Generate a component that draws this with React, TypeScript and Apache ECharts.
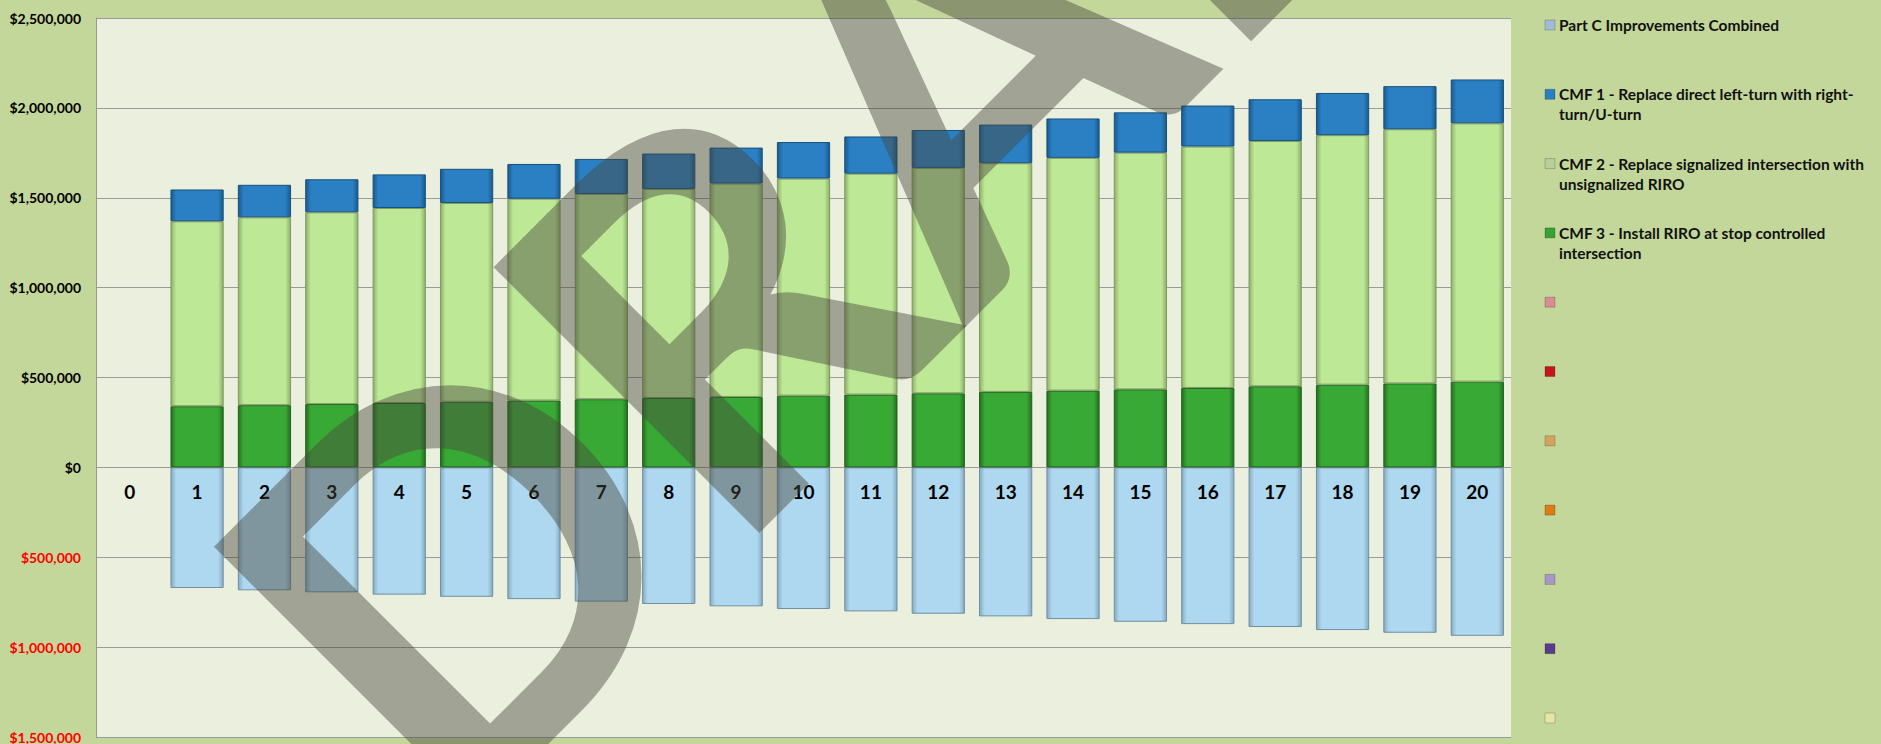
import React, { useEffect, useRef } from "react";
import * as echarts from "echarts";

const years = ["0", "1", "2", "3", "4", "5", "6", "7", "8", "9", "10", "11", "12", "13", "14", "15", "16", "17", "18", "19", "20"];

const partCValues = [null, -671000, -684000, -695000, -708000, -720000, -733000, -747000, -760000, -773000, -788000, -801000, -814000, -829000, -844000, -859000, -872000, -888000, -905000, -920000, -937000];
const cmf3Values = [null, 340000, 346000, 352000, 358000, 365000, 372000, 379000, 386000, 392000, 399000, 405000, 412000, 420000, 427000, 434000, 442000, 451000, 460000, 467000, 477000];
const cmf2Values = [null, 1029000, 1045000, 1067000, 1085000, 1106000, 1123000, 1142000, 1163000, 1187000, 1208000, 1229000, 1254000, 1272000, 1295000, 1317000, 1343000, 1365000, 1388000, 1414000, 1437000];
const cmf1Values = [null, 177000, 181000, 184000, 187000, 190000, 193000, 195000, 197000, 200000, 203000, 207000, 211000, 215000, 219000, 224000, 228000, 232000, 235000, 240000, 244000];

const seriesNames = [
  "Part C Improvements Combined",
  "CMF 1 - Replace direct left-turn with right-turn/U-turn",
  "CMF 2 - Replace signalized intersection with unsignalized RIRO",
  "CMF 3 - Install RIRO at stop controlled intersection",
];

const legendLines = [
  "Part C Improvements Combined",
  "CMF 1 - Replace direct left-turn with right-\nturn/U-turn",
  "CMF 2 - Replace signalized intersection with\nunsignalized RIRO",
  "CMF 3 - Install RIRO at stop controlled\nintersection",
  "", "", "", "", "", "", "",
];
const legendColors = ["#a3bcd6", "#2a7fc2", "#b7cf9a", "#37a335", "#d98c92", "#c4161c", "#d6a35f", "#e07a12", "#a898c9", "#5a3b8e", "#e6e5a6"];

const bevel = (main: string, dark: string) => ({
  type: "linear",
  x: 0, y: 0, x2: 1, y2: 0,
  colorStops: [
    { offset: 0, color: dark },
    { offset: 0.1, color: main },
    { offset: 0.9, color: main },
    { offset: 1, color: dark },
  ],
});

const FONT = "Lato, 'Noto Sans', sans-serif";

export default function App() {
  const ref = useRef<HTMLDivElement>(null);
  useEffect(() => {
    document.body.style.margin = "0";
    const chart = echarts.init(ref.current!, null, { renderer: "svg" });

    const legendGraphics: any[] = [];
    legendLines.forEach((txt, i) => {
      const cy = 25 + 69.3 * i;
      legendGraphics.push({
        type: "rect",
        shape: { x: 1545, y: cy - 5, width: 10, height: 10 },
        style: { fill: legendColors[i], stroke: "rgba(0,0,0,0.25)", lineWidth: 0.8 },
        z: 50,
      });
      if (txt) {
        legendGraphics.push({
          type: "text",
          x: 1559,
          y: cy - 10,
          z: 50,
          style: {
            text: txt,
            fontSize: 15.5,
            fontWeight: "bold",
            fontFamily: FONT,
            fill: "#111",
            lineHeight: 20,
            verticalAlign: "top",
            textVerticalAlign: "top",
          },
        });
      }
    });

    const option: any = {
      animation: false,
      backgroundColor: "#c4d79b",
      grid: {
        left: 96,
        right: 370,
        top: 18,
        bottom: 7,
        show: true,
        backgroundColor: "#ebf0de",
        borderWidth: 0,
      },
      xAxis: {
        type: "category",
        data: years,
        z: 10,
        axisLine: { show: false, onZero: false },
        axisTick: { show: false },
        axisLabel: {
          color: "#000",
          fontWeight: "bold",
          fontSize: 19,
          fontFamily: FONT,
          margin: -255,
        },
      },
      yAxis: {
        type: "value",
        min: -1500000,
        max: 2500000,
        interval: 500000,
        axisLine: { show: true, lineStyle: { color: "#999", width: 1 } },
        axisTick: { show: false },
        splitLine: { show: true, lineStyle: { color: "#9a9a9a", width: 1 } },
        axisLabel: {
          margin: 15,
          fontWeight: "bold",
          fontSize: 14,
          fontFamily: FONT,
          color: (v: any) => (Number(v) < 0 ? "#ff0000" : "#000000"),
          formatter: (v: number) => "$" + Math.abs(v).toLocaleString("en-US"),
        },
      },
      series: [
        {
          name: seriesNames[0],
          type: "bar",
          stack: "total",
          barCategoryGap: "21%",
          data: partCValues,
          itemStyle: { color: bevel("#aed8ef", "#86aac0"), borderColor: "#6f8fa3", borderWidth: 1 },
        },
        {
          name: seriesNames[3],
          type: "bar",
          stack: "total",
          data: cmf3Values,
          itemStyle: { color: bevel("#39a935", "#246f21"), borderColor: "#23611f", borderWidth: 1 },
        },
        {
          name: seriesNames[2],
          type: "bar",
          stack: "total",
          data: cmf2Values,
          itemStyle: { color: bevel("#bde996", "#8fae6c"), borderColor: "#7f9960", borderWidth: 1 },
        },
        {
          name: seriesNames[1],
          type: "bar",
          stack: "total",
          data: cmf1Values,
          itemStyle: { color: bevel("#2a80c3", "#1b5a8c"), borderColor: "#17507d", borderWidth: 1 },
        },
      ],
      graphic: [
        ...legendGraphics,
        {
          type: "text",
          x: 308,
          y: 700,
          rotation: Math.PI / 4,
          z: 100,
          silent: true,
          style: {
            text: "DRAFT",
            fontSize: 520,
            fontWeight: "bold",
            fontFamily: FONT,
            fill: "rgba(70,72,60,0.45)",
            align: "left",
            verticalAlign: "middle",
            textAlign: "left",
            textVerticalAlign: "middle",
          },
        },
      ],
    };
    chart.setOption(option);
    return () => chart.dispose();
  }, []);
  return (
    <div
      ref={ref}
      style={{ position: "fixed", left: 0, top: 0, width: 1881, height: 744 }}
    />
  );
}
